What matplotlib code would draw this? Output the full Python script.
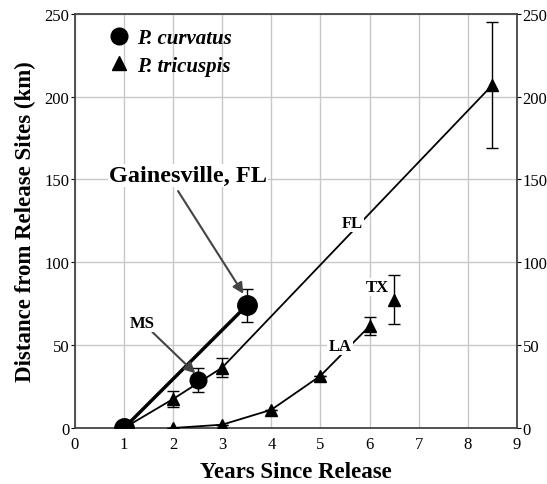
import matplotlib.pyplot as plt
from matplotlib.lines import Line2D

plt.rcParams['font.family'] = ['Liberation Serif', 'DejaVu Serif']

# P. curvatus, Gainesville FL
curv_x = [1, 3.5]
curv_y = [0, 74]
curv_err = [0, 10]
# P. curvatus, MS
ms_x = [2.5]
ms_y = [29]
ms_err = [7]
# P. tricuspis, FL
fl_x = [1, 2, 3, 8.5]
fl_y = [0, 17.5, 36.5, 207]
fl_err = [0, 5, 6, 38]
# P. tricuspis, LA
la_x = [2, 3, 4, 5, 6]
la_y = [0, 2, 11, 31.5, 61.5]
la_err = [0, 0, 0, 0, 5.5]
# P. tricuspis, TX
tx_x = [6.5]
tx_y = [77.5]
tx_err = [15]

xticks = list(range(0, 10))
yticks = [0, 50, 100, 150, 200, 250]

fig = plt.figure(figsize=(5.47, 4.85), dpi=100)
ax = fig.add_axes([0.137, 0.1155, 0.808, 0.854])

ax.grid(True, color='#c8c8c8', lw=1)
ax.set_axisbelow(True)

eb = dict(ecolor='black', elinewidth=1, capsize=4, capthick=1)
ax.errorbar(fl_x, fl_y, yerr=fl_err, color='black', lw=1.3, marker='^', ms=8, zorder=3, **eb)
ax.errorbar(la_x, la_y, yerr=la_err, color='black', lw=1.3, marker='^', ms=8, zorder=3, **eb)
ax.errorbar(tx_x, tx_y, yerr=tx_err, color='black', lw=0, marker='^', ms=8, zorder=3, **eb)
ax.errorbar(curv_x, curv_y, yerr=curv_err, color='black', lw=2.5, marker='o', ms=14, zorder=4, **eb)
ax.errorbar(ms_x, ms_y, yerr=ms_err, color='black', lw=0, marker='o', ms=12, zorder=4, **eb)

box = dict(facecolor='white', edgecolor='none', pad=1)
ax.text(5.64, 124, 'FL', fontsize=12, fontweight='bold', ha='center', va='center', bbox=box, zorder=5)
ax.text(5.4, 49.5, 'LA', fontsize=12, fontweight='bold', ha='center', va='center', bbox=box, zorder=5)
ax.text(6.15, 85, 'TX', fontsize=12, fontweight='bold', ha='center', va='center', bbox=box, zorder=5)

arr = dict(arrowstyle='-|>', color='#444444', lw=1.5, mutation_scale=16, shrinkA=0, shrinkB=0)
ax.annotate('MS', xy=(2.45, 33), xytext=(1.38, 63.5), fontsize=12, fontweight='bold',
            ha='center', va='center', bbox=box, arrowprops=arr, zorder=5)
ax.annotate('', xy=(3.43, 81), xytext=(2.1, 143), arrowprops=arr, zorder=5)
ax.text(2.3, 152.5, 'Gainesville, FL', fontsize=17.5, fontweight='bold', ha='center', va='center',
        bbox=dict(facecolor='white', edgecolor='none', pad=0.5), zorder=5)

handles = [Line2D([], [], color='black', marker='o', ms=12, lw=0),
           Line2D([], [], color='black', marker='^', ms=10, lw=0)]
ax.legend(handles, ['P. curvatus', 'P. tricuspis'], loc='upper left', bbox_to_anchor=(0.03, 1.01),
          frameon=False, handletextpad=0.25, labelspacing=0.35, handlelength=1.2,
          prop=dict(family='Liberation Serif', style='italic', weight='bold', size=15))

ax.set_xlim(0, 9)
ax.set_ylim(0, 250)
ax.set_xticks(xticks)
ax.set_yticks(yticks)
ax.tick_params(labelsize=12, length=3, right=True, labelright=True, bottom=False, pad=1)
ax.tick_params(axis='x', pad=3)
for s in ax.spines.values():
    s.set_color('#444444')
    s.set_linewidth(1.3)

ax.set_xlabel('Years Since Release', fontsize=16.5, fontweight='bold', labelpad=6)
ax.set_ylabel('Distance from Release Sites (km)', fontsize=16.5, fontweight='bold', labelpad=6)

fig.savefig('out.png', dpi=100)
